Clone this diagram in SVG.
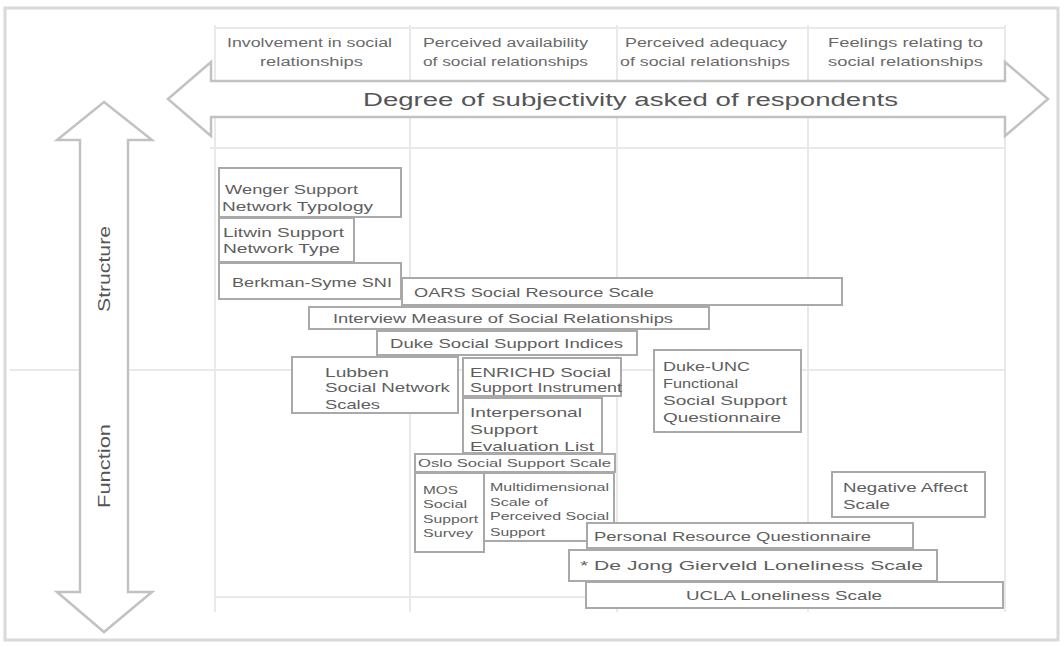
<svg xmlns="http://www.w3.org/2000/svg" width="1064" height="647" viewBox="0 0 1064 647">
<style>
.bg{fill:#ffffff}
.frame{fill:none;stroke:#d9d9d9;stroke-width:3}
.grid{stroke:#e9e9e9;stroke-width:2;fill:none}
.arrow{fill:#ffffff;stroke:#c2c2c2;stroke-width:2.5;stroke-linejoin:miter}
.box{fill:#ffffff;stroke:#a9a9a9;stroke-width:2}
.t{font-family:"Liberation Sans",Arial,sans-serif;font-size:13px;fill:#5e5e5e}
.s{font-size:11.5px}
.hdr{font-family:"Liberation Sans",Arial,sans-serif;font-size:12px;fill:#6a6a6a}
.title{font-family:"Liberation Sans",Arial,sans-serif;font-size:18px;fill:#555555}
.axis{font-family:"Liberation Sans",Arial,sans-serif;font-size:17px;fill:#555555}
</style>
<rect class="bg" x="0" y="0" width="1064" height="647"/>
<rect class="frame" x="5" y="8" width="1053" height="632"/>

<g id="grid">
<line class="grid" x1="215" y1="25" x2="215" y2="612"/>
<line class="grid" x1="410" y1="25" x2="410" y2="612"/>
<line class="grid" x1="617" y1="25" x2="617" y2="612"/>
<line class="grid" x1="808" y1="25" x2="808" y2="612"/>
<line class="grid" x1="1005" y1="25" x2="1005" y2="612"/>
<line class="grid" x1="215" y1="28" x2="1005" y2="28"/>
<line class="grid" x1="210" y1="148" x2="1005" y2="148"/>
<line class="grid" x1="10" y1="370" x2="1005" y2="370"/>
<line class="grid" x1="215" y1="597" x2="1005" y2="597"/>
</g>

<g id="header-labels">
<text class="hdr" x="227" y="47" textLength="165" lengthAdjust="spacingAndGlyphs">Involvement in social</text>
<text class="hdr" x="260" y="66" textLength="103" lengthAdjust="spacingAndGlyphs">relationships</text>
<text class="hdr" x="423" y="47" textLength="165" lengthAdjust="spacingAndGlyphs">Perceived availability</text>
<text class="hdr" x="423" y="66" textLength="165" lengthAdjust="spacingAndGlyphs">of social relationships</text>
<text class="hdr" x="625" y="47" textLength="162" lengthAdjust="spacingAndGlyphs">Perceived adequacy</text>
<text class="hdr" x="620" y="66" textLength="170" lengthAdjust="spacingAndGlyphs">of social relationships</text>
<text class="hdr" x="828" y="47" textLength="155" lengthAdjust="spacingAndGlyphs">Feelings relating to</text>
<text class="hdr" x="828" y="66" textLength="155" lengthAdjust="spacingAndGlyphs">social relationships</text>
</g>

<g id="subjectivity-arrow">
<polygon class="arrow" points="168,99 211,62 211,81 1005,81 1005,62 1048,99 1005,136 1005,117 211,117 211,136"/>
<text class="title" x="363" y="106" textLength="535" lengthAdjust="spacingAndGlyphs">Degree of subjectivity asked of respondents</text>
</g>

<g id="structure-function-arrow">
<polygon class="arrow" points="104,102 152,140 128,140 128,592 152,592 104,632 57,592 80,592 80,140 57,140"/>
<text class="axis" transform="translate(110,312) rotate(-90)" textLength="86" lengthAdjust="spacingAndGlyphs">Structure</text>
<text class="axis" transform="translate(110,508) rotate(-90)" textLength="84" lengthAdjust="spacingAndGlyphs">Function</text>
</g>

<g id="wenger">
<rect class="box" x="219" y="168" width="182" height="49"/>
<text class="t" x="225" y="194" textLength="133" lengthAdjust="spacingAndGlyphs">Wenger Support</text>
<text class="t" x="222" y="211" textLength="151" lengthAdjust="spacingAndGlyphs">Network Typology</text>
</g>
<g id="litwin">
<rect class="box" x="219" y="218" width="135" height="44"/>
<text class="t" x="223" y="237" textLength="121" lengthAdjust="spacingAndGlyphs">Litwin Support</text>
<text class="t" x="223" y="253" textLength="117" lengthAdjust="spacingAndGlyphs">Network Type</text>
</g>
<g id="berkman">
<rect class="box" x="219" y="263" width="182" height="36"/>
<text class="t" x="232" y="287" textLength="160" lengthAdjust="spacingAndGlyphs">Berkman-Syme SNI</text>
</g>
<g id="oars">
<rect class="box" x="402" y="278" width="440" height="27"/>
<text class="t" x="414" y="297" textLength="240" lengthAdjust="spacingAndGlyphs">OARS Social Resource Scale</text>
</g>
<g id="interview">
<rect class="box" x="309" y="307" width="400" height="22"/>
<text class="t" x="333" y="323" textLength="340" lengthAdjust="spacingAndGlyphs">Interview Measure of Social Relationships</text>
</g>
<g id="duke-ssi">
<rect class="box" x="377" y="331" width="260" height="24"/>
<text class="t" x="390" y="348" textLength="233" lengthAdjust="spacingAndGlyphs">Duke Social Support Indices</text>
</g>
<g id="lubben">
<rect class="box" x="292" y="357" width="166" height="56"/>
<text class="t" x="325" y="377" textLength="64" lengthAdjust="spacingAndGlyphs">Lubben</text>
<text class="t" x="325" y="392" textLength="125" lengthAdjust="spacingAndGlyphs">Social Network</text>
<text class="t" x="325" y="409" textLength="55" lengthAdjust="spacingAndGlyphs">Scales</text>
</g>
<g id="enrichd">
<rect class="box" x="463" y="358" width="158" height="38"/>
<text class="t" x="470" y="377" textLength="141" lengthAdjust="spacingAndGlyphs">ENRICHD Social</text>
<text class="t" x="470" y="392" textLength="152" lengthAdjust="spacingAndGlyphs">Support Instrument</text>
</g>
<g id="isel">
<rect class="box" x="463" y="398" width="139" height="55"/>
<text class="t" x="470" y="417" textLength="112" lengthAdjust="spacingAndGlyphs">Interpersonal</text>
<text class="t" x="470" y="434" textLength="68" lengthAdjust="spacingAndGlyphs">Support</text>
<text class="t" x="470" y="451" textLength="124" lengthAdjust="spacingAndGlyphs">Evaluation List</text>
</g>
<g id="duke-unc">
<rect class="box" x="654" y="350" width="147" height="82"/>
<text class="t" x="663" y="371" textLength="87" lengthAdjust="spacingAndGlyphs">Duke-UNC</text>
<text class="t" x="663" y="388" textLength="75" lengthAdjust="spacingAndGlyphs">Functional</text>
<text class="t" x="663" y="405" textLength="124" lengthAdjust="spacingAndGlyphs">Social Support</text>
<text class="t" x="663" y="422" textLength="118" lengthAdjust="spacingAndGlyphs">Questionnaire</text>
</g>
<g id="oslo">
<rect class="box" x="415" y="454" width="200" height="18"/>
<text class="t s" x="418" y="467" textLength="193" lengthAdjust="spacingAndGlyphs">Oslo Social Support Scale</text>
</g>
<g id="mos">
<rect class="box" x="415" y="473" width="69" height="79"/>
<text class="t s" x="423" y="494" textLength="35" lengthAdjust="spacingAndGlyphs">MOS</text>
<text class="t s" x="423" y="508" textLength="44" lengthAdjust="spacingAndGlyphs">Social</text>
<text class="t s" x="423" y="523" textLength="55" lengthAdjust="spacingAndGlyphs">Support</text>
<text class="t s" x="423" y="537" textLength="50" lengthAdjust="spacingAndGlyphs">Survey</text>
</g>
<g id="mspss">
<rect class="box" x="484" y="473" width="130" height="68"/>
<text class="t s" x="490" y="491" textLength="119" lengthAdjust="spacingAndGlyphs">Multidimensional</text>
<text class="t s" x="490" y="506" textLength="58" lengthAdjust="spacingAndGlyphs">Scale of</text>
<text class="t s" x="490" y="520" textLength="119" lengthAdjust="spacingAndGlyphs">Perceived Social</text>
<text class="t s" x="490" y="536" textLength="55" lengthAdjust="spacingAndGlyphs">Support</text>
</g>
<g id="negative-affect">
<rect class="box" x="832" y="472" width="153" height="45"/>
<text class="t" x="843" y="492" textLength="125" lengthAdjust="spacingAndGlyphs">Negative Affect</text>
<text class="t" x="843" y="509" textLength="47" lengthAdjust="spacingAndGlyphs">Scale</text>
</g>
<g id="personal-resource">
<rect class="box" x="587" y="523" width="326" height="25"/>
<text class="t" x="594" y="541" textLength="277" lengthAdjust="spacingAndGlyphs">Personal Resource Questionnaire</text>
</g>
<g id="de-jong">
<rect class="box" x="569" y="550" width="368" height="31"/>
<text class="t" x="580" y="570" textLength="343" lengthAdjust="spacingAndGlyphs">* De Jong Gierveld Loneliness Scale</text>
</g>
<g id="ucla">
<rect class="box" x="586" y="582" width="417" height="26"/>
<text class="t" x="686" y="600" textLength="196" lengthAdjust="spacingAndGlyphs">UCLA Loneliness Scale</text>
</g>
<g id="connectors"></g>
</svg>
